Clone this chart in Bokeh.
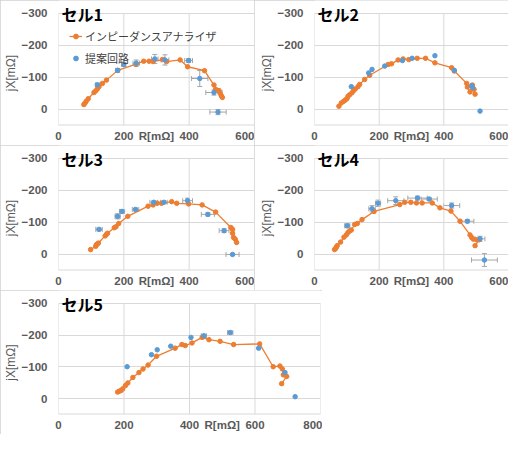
from bokeh.plotting import figure
from bokeh.models import (Range1d, FixedTicker, Label, Legend, LegendItem, Whisker,
                          ColumnDataSource, TeeHead)
from bokeh.layouts import column, row
from bokeh.embed import file_html
from bokeh.resources import INLINE

# ---------------- data ----------------
# セル1
c1_ia_r = [77.6, 80.7, 84.8, 91.0, 108.6, 113.8, 119.0, 124.1, 134.5, 146.9, 181.0, 237.9,
           260.7, 277.2, 289.6, 318.6, 331.0, 372.4, 395.2, 446.9, 475.9, 481.0, 491.4,
           494.5, 498.6, 501.7]
c1_ia_x = [-15.3, -19.3, -25.4, -33.6, -52.9, -58.0, -64.0, -71.2, -81.4, -91.6, -122.0, -141.4,
           -150.6, -150.6, -149.5, -155.6, -149.5, -154.6, -133.3, -121.0, -76.3, -63.0, -59.0,
           -50.9, -42.7, -37.6]
c1_pc_r = [119.0, 181.0, 199.7, 238.0, 294.8, 325.8, 398.3, 432.4, 475.9, 488.3]
c1_pc_x = [-77.0, -122.0, -140.4, -144.4, -157.7, -154.6, -152.6, -96.6, -52.9, 8.1]
c1_pc_rerr = [6, 6, 6, 10, 10, 12, 12, 25, 25, 25]
c1_pc_xerr = [4, 5, 6, 10, 14, 16, 6, 25, 8, 8]

# セル2
c2_ia_r = [75.5, 82.8, 90.0, 95.2, 100.3, 103.4, 108.6, 115.9, 121.0, 126.2, 134.5, 139.7,
           155.2, 170.7, 227.6, 238.0, 258.6, 274.1, 291.7, 317.6, 343.4, 372.4, 424.1,
           432.4, 470.7, 472.8, 481.0, 488.3, 493.4, 496.6]
c2_ia_x = [-10.2, -20.3, -25.4, -29.5, -33.6, -40.7, -45.8, -51.9, -59.0, -64.1, -71.2, -78.3,
           -93.6, -106.8, -140.4, -142.4, -154.6, -157.7, -155.6, -159.7, -159.7, -145.5,
           -130.2, -120.0, -81.4, -70.2, -54.9, -76.3, -63.1, -47.8]
c2_pc_r = [113.8, 167.6, 177.9, 217.2, 272.0, 302.0, 372.4, 432.4, 486.2, 489.3, 512.0]
c2_pc_x = [-71.2, -113.9, -125.1, -135.3, -152.6, -159.7, -167.8, -122.0, -74.3, -68.2, 5.1]
c2_pc_rerr = [0, 0, 0, 0, 0, 0, 0, 0, 0, 0, 0]
c2_pc_xerr = [0, 0, 0, 0, 0, 0, 0, 0, 0, 0, 0]

# セル3
c3_ia_r = [98.3, 113.8, 115.9, 119.0, 122.1, 142.8, 147.0, 150.0, 170.7, 176.0, 184.2, 212.1,
           274.1, 289.6, 302.0, 315.5, 346.5, 362.0, 398.3, 439.7, 481.0, 527.6, 532.8,
           532.8, 535.9, 541.0, 545.2]
c3_ia_x = [-15.3, -25.4, -30.5, -32.6, -35.6, -58.0, -63.1, -66.1, -83.4, -86.5, -96.6, -119.0,
           -150.6, -154.6, -159.7, -159.7, -164.8, -159.7, -157.7, -154.6, -132.2, -84.4,
           -78.3, -66.1, -52.9, -47.8, -37.6]
c3_pc_r = [124.1, 181.0, 194.5, 235.9, 291.7, 322.8, 395.2, 457.2, 506.9, 532.8]
c3_pc_x = [-78.3, -119.0, -134.3, -140.4, -162.8, -162.8, -167.8, -125.1, -74.3, 0.0]
c3_pc_rerr = [10, 8, 8, 10, 12, 10, 15, 20, 15, 20]
c3_pc_xerr = [4, 8, 6, 4, 5, 4, 8, 5, 6, 3]

# セル4
c4_ia_r = [62.0, 65.2, 67.2, 70.3, 80.7, 91.0, 98.3, 103.4, 108.6, 113.8, 124.1, 132.4, 147.0,
           184.2, 263.8, 279.3, 298.0, 315.5, 333.1, 364.1, 387.9, 422.0, 450.0, 481.0,
           486.2, 491.4, 501.7, 509.0, 496.6]
c4_ia_x = [-15.3, -18.3, -22.4, -27.5, -38.7, -54.0, -61.0, -68.2, -73.2, -76.3, -93.6, -96.6,
           -108.8, -134.3, -155.6, -162.8, -162.8, -160.7, -160.7, -160.7, -145.5, -135.3,
           -103.8, -61.0, -52.9, -47.8, -45.8, -45.8, -27.5]
c4_pc_r = [101.4, 177.9, 196.6, 251.4, 318.6, 354.8, 424.1, 472.8, 512.0, 525.5]
c4_pc_x = [-89.5, -142.4, -159.7, -167.8, -176.0, -172.9, -152.6, -103.8, -48.8, 17.3]
c4_pc_rerr = [8, 10, 8, 25, 30, 25, 25, 20, 15, 40]
c4_pc_xerr = [6, 10, 10, 12, 6, 5, 8, 5, 8, 20]

# セル5
c5_ia_r = [180.6, 185.8, 191.0, 196.1, 204.4, 211.6, 227.1, 245.7, 258.1, 273.5, 299.4, 356.1,
           376.8, 387.1, 407.7, 438.7, 459.4, 493.4, 534.7, 614.2, 655.5, 676.1, 683.4,
           686.5, 696.8, 681.3]
c5_ia_x = [-20.5, -23.5, -25.6, -30.7, -41.0, -49.1, -66.5, -81.9, -93.2, -105.5, -133.1,
           -158.7, -170.0, -166.9, -175.1, -192.5, -185.3, -180.2, -170.0, -172.0, -100.3,
           -102.4, -93.2, -74.7, -69.6, -47.1]
c5_pc_r = [209.5, 283.9, 301.4, 342.7, 404.6, 443.9, 524.4, 611.1, 691.6, 722.6]
c5_pc_x = [-100.3, -138.2, -153.6, -164.8, -192.5, -197.6, -207.8, -158.7, -81.9, -6.1]
c5_pc_rerr = [0, 0, 0, 0, 0, 8, 8, 0, 0, 0]
c5_pc_xerr = [0, 0, 0, 0, 0, 4, 4, 0, 0, 0]

y_ticks = [-300, -200, -100, 0]
y_bottom = 50
x_ticks_600 = [0, 200, 400, 600]
x_ticks_800 = [0, 200, 400, 600, 800]
x_title_pos_600 = 300
x_title_pos_800 = 500
titles = ["セル1", "セル2", "セル3", "セル4", "セル5"]
x_title = "R[mΩ]"
y_title = "jX[mΩ]"
label_ia = "インピーダンスアナライザ"
label_pc = "提案回路"

ORANGE = "#ED7D31"
BLUE = "#5B9BD5"
GRID = "#D9D9D9"
TXT = "#595959"
ERR = "#A6A6A6"
Y_TOP = -340   # room above -300 inside the frame for the panel title


def make_panel(title, ia_r, ia_x, pc_r, pc_x, pc_rerr, pc_xerr, xticks, xtitle_pos,
               width, height, left, right, legend=False):
    p = figure(width=width, height=height, output_backend="svg", toolbar_location=None,
               title=None,
               x_range=Range1d(xticks[0], xticks[-1]), y_range=Range1d(y_bottom, Y_TOP),
               min_border_left=left, min_border_right=right,
               min_border_top=0, min_border_bottom=20)
    p.background_fill_color = "white"
    p.border_fill_color = "white"
    p.outline_line_color = None
    p.styles = {"outline": "1px solid #D0D0D0", "outline-offset": "-1px"}
    # the x-axis title sits in the tick-label row, between the middle ticks
    p.xaxis.ticker = FixedTicker(ticks=sorted(xticks + [xtitle_pos]))
    p.xaxis.major_label_overrides = {xtitle_pos: x_title}
    p.yaxis.ticker = FixedTicker(ticks=y_ticks)
    p.xgrid.visible = False
    p.ygrid.ticker = FixedTicker(ticks=y_ticks)
    p.ygrid.grid_line_color = GRID
    # plot-area box: vertical lines at x ticks and bottom edge
    p.segment(x0=xticks, y0=[y_ticks[0]] * len(xticks), x1=xticks, y1=[y_bottom] * len(xticks),
              line_color=GRID, line_width=1)
    p.segment(x0=[xticks[0]], y0=[y_bottom], x1=[xticks[-1]], y1=[y_bottom],
              line_color=GRID, line_width=2)
    for ax in (p.xaxis[0], p.yaxis[0]):
        ax.axis_line_color = None
        ax.major_tick_line_color = None
        ax.minor_tick_line_color = None
        ax.major_tick_out = 0
        ax.major_tick_in = 0
        ax.minor_tick_out = 0
        ax.minor_tick_in = 0
        ax.major_label_text_font = "Liberation Sans"
        ax.major_label_text_font_style = "bold"
        ax.major_label_text_font_size = "11.5px"
        ax.major_label_text_color = TXT
        ax.axis_label_text_font_style = "normal"
        ax.axis_label_text_color = TXT
    p.xaxis.major_label_standoff = 4
    p.yaxis.major_label_standoff = 11
    p.yaxis.axis_label_text_font = "Liberation Sans"
    p.yaxis.axis_label_text_font_size = "12px"
    p.yaxis.axis_label = y_title + "\u00a0" * 6
    p.yaxis.axis_label_standoff = 1

    # error bars of proposed circuit
    er_r = [r for r, e in zip(pc_r, pc_rerr) if e > 0]
    er_x = [x for x, e in zip(pc_x, pc_rerr) if e > 0]
    er_e = [e for e in pc_rerr if e > 0]
    if er_r:
        s = ColumnDataSource(dict(base=er_x, lo=[r - e for r, e in zip(er_r, er_e)],
                                  hi=[r + e for r, e in zip(er_r, er_e)]))
        p.add_layout(Whisker(source=s, base="base", lower="lo", upper="hi", dimension="width",
                             line_color=ERR, line_width=1,
                             upper_head=TeeHead(size=5, line_color=ERR, line_width=1),
                             lower_head=TeeHead(size=5, line_color=ERR, line_width=1)))
    ev_r = [r for r, e in zip(pc_r, pc_xerr) if e > 0]
    ev_x = [x for x, e in zip(pc_x, pc_xerr) if e > 0]
    ev_e = [e for e in pc_xerr if e > 0]
    if ev_r:
        s = ColumnDataSource(dict(base=ev_r, lo=[x - e for x, e in zip(ev_x, ev_e)],
                                  hi=[x + e for x, e in zip(ev_x, ev_e)]))
        p.add_layout(Whisker(source=s, base="base", lower="lo", upper="hi", dimension="height",
                             line_color=ERR, line_width=1,
                             upper_head=TeeHead(size=5, line_color=ERR, line_width=1),
                             lower_head=TeeHead(size=5, line_color=ERR, line_width=1)))

    ln = p.line(ia_r, ia_x, line_color=ORANGE, line_width=1.3)
    sc = p.scatter(ia_r, ia_x, size=4.5, marker="circle", fill_color=ORANGE, line_color=ORANGE)
    bl = p.scatter(pc_r, pc_x, size=4.5, marker="circle", fill_color=BLUE, line_color=BLUE)

    p.add_layout(Label(x=xticks[0], y=y_ticks[0], x_offset=3, y_offset=-1, text=title,
                       text_font="Noto Sans CJK JP", text_font_style="bold",
                       text_font_size="16px", text_color="#000000",
                       text_baseline="alphabetic", text_align="left"))

    if legend:
        lg = Legend(items=[LegendItem(label=label_ia, renderers=[ln, sc]),
                           LegendItem(label=label_pc, renderers=[bl])],
                    location=(11, 59), margin=0, padding=4, spacing=6,
                    glyph_width=13, glyph_height=12, label_height=12, label_standoff=3,
                    label_text_font="Noto Sans CJK JP", label_text_font_size="11px",
                    label_text_color="#404040", background_fill_alpha=0,
                    border_line_color=None)
        p.add_layout(lg)
    return p


p1 = make_panel(titles[0], c1_ia_r, c1_ia_x, c1_pc_r, c1_pc_x, c1_pc_rerr, c1_pc_xerr,
                x_ticks_600, x_title_pos_600, 254, 145, 52, 0, legend=True)
p2 = make_panel(titles[1], c2_ia_r, c2_ia_x, c2_pc_r, c2_pc_x, c2_pc_rerr, c2_pc_xerr,
                x_ticks_600, x_title_pos_600, 254, 145, 60, 0)
p3 = make_panel(titles[2], c3_ia_r, c3_ia_x, c3_pc_r, c3_pc_x, c3_pc_rerr, c3_pc_xerr,
                x_ticks_600, x_title_pos_600, 254, 145, 52, 0)
p4 = make_panel(titles[3], c4_ia_r, c4_ia_x, c4_pc_r, c4_pc_x, c4_pc_rerr, c4_pc_xerr,
                x_ticks_600, x_title_pos_600, 254, 145, 60, 0)
p5 = make_panel(titles[4], c5_ia_r, c5_ia_x, c5_pc_r, c5_pc_x, c5_pc_rerr, c5_pc_xerr,
                x_ticks_800, x_title_pos_800, 322, 144, 52, 2)

layout = column(row(p1, p2), row(p3, p4), p5)
open("out.html", "w").write(file_html(layout, INLINE))
